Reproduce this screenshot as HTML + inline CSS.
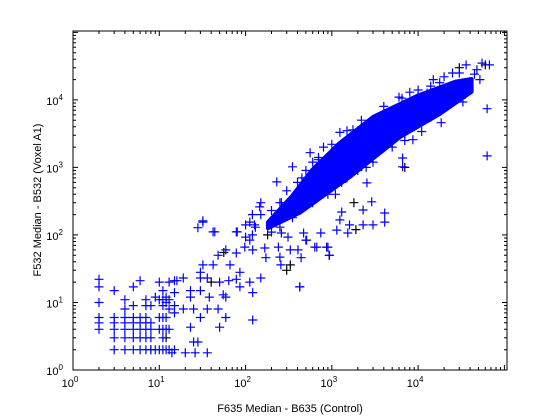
<!DOCTYPE html>
<html><head><meta charset="utf-8">
<style>
html,body{margin:0;padding:0;background:#fff;}
svg{display:block;font-family:"Liberation Sans",Arial,sans-serif;}
</style></head>
<body>
<svg id="chart" width="560" height="420" viewBox="0 0 560 420">
<rect x="0" y="0" width="560" height="420" fill="#fff"/>
<g id="core"></g>
<g id="blk"></g>
<g id="blu"></g>
<g id="axes"></g>
<text x="290" y="412" font-size="11" text-anchor="middle">F635 Median - B635 (Control)</text>
<text transform="translate(41,200) rotate(-90)" font-size="11" text-anchor="middle">F532 Median - B532 (Voxel A1)</text>
</svg>
<script>
// dense core band (upper and lower edges)
const coreUpperX=[182,347,589,1230,3020,9770,26900,41700];
const coreUpperY=[155,380,912,2290,5620,11480,18600,20400];
const coreLowerX=[41700,17800,6170,1620,427,182];
const coreLowerY=[13200,6170,2820,724,214,126];
// blue series (sparse points)
const blueX=[2,2,2,2,2,2,3,3,3,3,3,3,4,4,4,4,4,4,4,5,5,5,5,5,5,5,6,6,6,6,6,6,7,7,7,7,7,7,7,8,8,8,8,8,9,9,10,10,10,10,10,11,11,11,11,11,11,11,12,12,12,12,12,13,13,13,13,13,15,15,15,15,15,
32,28,44,59,48,32,42,66,78,98,100,78,100,127,112,121,167,172,250,257,330,405,440,425,500,635,900,930,745,1240,1600,470,260,310,121,121,86,150,112,78,64,50,55,38,30,30,36,30,23,23,19,16,19,25,36,48,59,50,30,23,25,28,20,26,36,14,59,86,
63000,63000,6600,6600,2550,2900,4100,4100,2300,1530,1300,3000,2300,1140,870,940,670,425,510,240,350,230,560,17800,36000,67000,10000,18500,33000,52000,1240,1760,6500,12700,8700,11000,146,112,80,42,32,48000,55000,
200,260,450,700,1500,2000,4000,5000,9000,15000,25000,20000,800,1000,3000,120,150,600,2500,7000,30000,350,1100,
250,400,700,1000,1500,2200,4000,6000,8000,14000,20000,30000,45000,150,300,500,
250,350,600,900,1300,2000,3000,4500,7000,10000,14000,22000,35000,200,130,120];
const blueY=[22,17,10,6,5,4,15,6,5,4,3,2,11,8,6,5,4,3,2,17,9,6,5,4,3,2,21,6,5,4,3,2,11,9,6,5,4,3,2,9,5,4,3,2,12,2,20,11,6,4,2,15,11,9,6,4,3,2,12,10,6,4,2,20,11,8,4,2,21,14,9,7,2,
162,128,111,60,50,36,36,36,54,66,93,111,141,141,84,60,64,46,47,36,60,60,46,17,84,66,66,50,107,167,141,107,107,93,14,5.5,17,23,20,22,21,20,13,12,15,23,23,28,15,12,23,21,8,8,8,8,6,4.3,6,4.3,2.6,2.6,1.8,1.8,1.8,1.8,12,28,
7400,1480,1020,1380,590,310,211,155,234,107,219,141,141,118,66,50,66,17,84,66,1020,610,1650,18000,33000,33000,14000,4600,9300,20000,3300,3600,10600,12600,2570,3400,260,155,111,111,155,28000,35000,
230,300,700,1300,700,3500,5000,2000,4000,20000,25000,8000,2000,500,1200,200,300,1200,1000,2500,12000,180,400,
300,600,1400,2200,3500,5000,8000,11000,13000,16000,22000,25000,24000,200,450,900,
130,200,300,400,600,900,1500,2200,3200,4500,5500,9000,12000,110,130,100];
// black series
const blackX=[30000,60000,7000,1800,1900,330,300,56,40,12,8,180];
const blackY=[30000,33000,1000,300,120,36,30,55,20,3,2,100];

const NS="http://www.w3.org/2000/svg";
const X0=73,X1=507,Y0=370,Y1=31,XMAX=5.03,YMAX=5.02;
const sx=v=>X0+(Math.log10(v)/XMAX)*(X1-X0);
const sy=v=>Y0-(Math.log10(v)/YMAX)*(Y0-Y1);
function mk(tag,attrs,parent){const e=document.createElementNS(NS,tag);for(const k in attrs)e.setAttribute(k,attrs[k]);parent.appendChild(e);return e;}

const pts=[];
coreUpperX.forEach((x,i)=>pts.push(sx(x).toFixed(1)+","+sy(coreUpperY[i]).toFixed(1)));
coreLowerX.forEach((x,i)=>pts.push(sx(x).toFixed(1)+","+sy(coreLowerY[i]).toFixed(1)));
const poly=mk("polygon",{points:pts.join(" "),fill:"#0000ff",stroke:"#0000ff","stroke-width":"4","stroke-linejoin":"round"},document.getElementById("core"));



function plus(g,x,y,c){
  const px=sx(x),py=sy(y);
  const p=mk("path",{d:`M${(px-4.5).toFixed(1)},${py.toFixed(1)}h9M${px.toFixed(1)},${(py-4.5).toFixed(1)}v9`,stroke:c,"stroke-width":"1.2",fill:"none"},g);
  
  
}
const gb=document.getElementById("blk");
blackX.forEach((x,i)=>plus(gb,x,blackY[i],"#000"));
const gu=document.getElementById("blu");
blueX.forEach((x,i)=>plus(gu,x,blueY[i],"#0000ff"));

const ga=document.getElementById("axes");
const frame=mk("rect",{x:X0,y:Y1,width:X1-X0,height:Y0-Y1,fill:"none",stroke:"#000","stroke-width":"1"},ga);


const decades=[0,1,2,3,4,5];
let d="";
for(const k of decades){
  for(let m=1;m<10;m++){
    const v=m*Math.pow(10,k);
    const L=m===1?5:3;
    if(Math.log10(v)<=XMAX){const x=sx(v).toFixed(1);d+=`M${x},${Y0}v${-L}M${x},${Y1}v${L}`;}
    if(Math.log10(v)<=YMAX){const y=sy(v).toFixed(1);d+=`M${X0},${y}h${L}M${X1},${y}h${-L}`;}
  }
}
const ticks=mk("path",{d:d,stroke:"#000","stroke-width":"1",fill:"none"},ga);


const tickExp=[0,1,2,3,4];
tickExp.forEach(k=>{
  const v=Math.pow(10,k);
  const tx=mk("text",{x:sx(v)-3,y:Y0+17,"font-size":"11","text-anchor":"middle"},ga);
  tx.textContent="10";
  const s=mk("tspan",{dy:"-5","font-size":"8"},tx);s.textContent=String(k);
  
  
  const ty=mk("text",{x:X0-10,y:sy(v)+5,"font-size":"11","text-anchor":"end"},ga);
  ty.textContent="10";
  const s2=mk("tspan",{dy:"-5","font-size":"8"},ty);s2.textContent=String(k);
  
  
});
</script>
</body></html>
